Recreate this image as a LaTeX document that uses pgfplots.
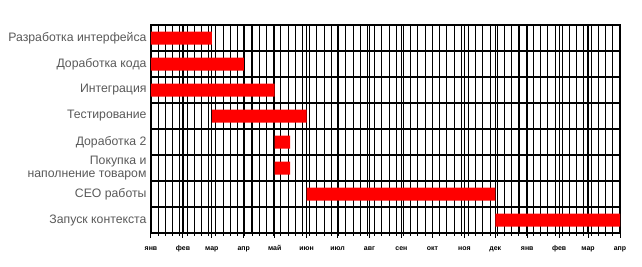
\documentclass[border=0pt]{standalone}
\usepackage{fontspec}
\setmainfont{Liberation Sans}
\usepackage{pgfplots}
\pgfplotsset{compat=1.18}
\usepackage{pgfplotstable}
\definecolor{lbl}{HTML}{595959}
\pgfplotstableread{
y start dur
1 0 59
2 0 90
3 0 120
4 59 92
5 120 15
6 120 15
7 151 183
8 334 121
}\tasks
\begin{document}
\begin{tikzpicture}
\begin{axis}[name=ax, scale only axis, width=469bp, height=208bp,
 xbar stacked, bar width=13bp,
 xmin=0, xmax=455, ymin=0.5, ymax=8.5, y dir=reverse,
 axis line style={line width=1.5bp, black},
 xtick={0,31,59,90,120,151,181,212,243,273,304,334,365,396,424,455},
 xticklabels={янв,фев,мар,апр,май,июн,июл,авг,сен,окт,ноя,дек,янв,фев,мар,апр},
 minor xtick={0,7,...,455},
 xtick pos=lower, xtick align=outside, major tick length=4.5bp, minor tick length=2.5bp,
 xmajorgrids, xminorgrids,
 major grid style={black, line width=1.2bp},
 minor grid style={black, line width=1.05bp},
 xtick style={black, line width=1bp},
 xticklabel style={font=\fontsize{7}{8}\selectfont\bfseries, anchor=north, text height=5bp, text depth=0bp, yshift=-4bp},
 ytick={1,...,8},
 yticklabels={Разработка интерфейса,Доработка кода,Интеграция,Тестирование,Доработка 2,{Покупка и\\наполнение товаром},СЕО работы,Запуск контекста},
 yticklabel style={font=\fontsize{12.3}{13.5}\selectfont, text=lbl, align=right, xshift=-1bp},
 ytick style={draw=none},
 extra y ticks={0.5,1.5,...,8.5},
 extra y tick labels={},
 extra y tick style={ytick pos=left, ytick align=outside, major tick length=71bp, ymajorgrids, tick style={draw=black, line width=1.1bp}},
]
\addplot[draw=none, fill=none, forget plot] table[x=start, y=y] {\tasks};
\addplot[draw=none, fill=red] table[x=dur, y=y] {\tasks};
\end{axis}
\pgfresetboundingbox
\path ([xshift=-151bp,yshift=-34bp]ax.south west) rectangle ([xshift=22bp,yshift=25bp]ax.north east);
\end{tikzpicture}
\end{document}
